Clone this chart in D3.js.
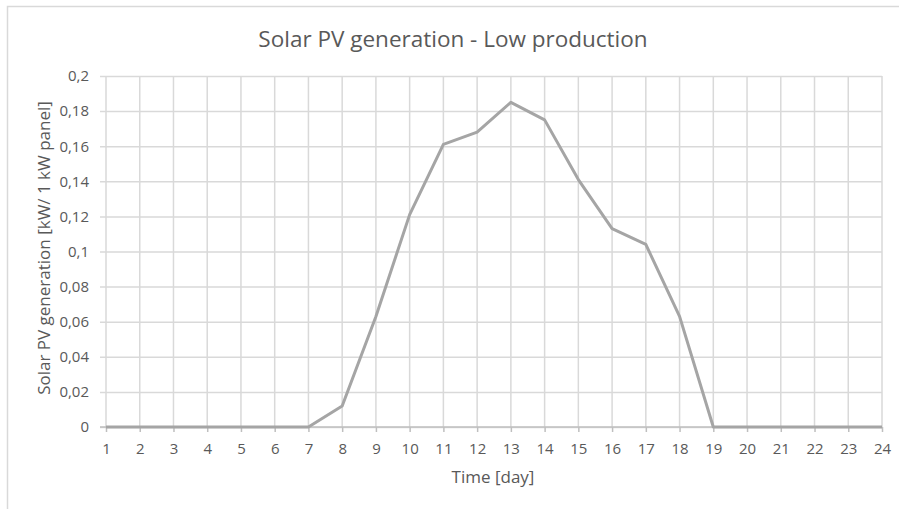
<!DOCTYPE html>
<html>
<head>
<meta charset="utf-8">
<script src="https://cdn.jsdelivr.net/npm/d3@7"></script>
<style>
  body { margin: 0; background: #fff; }
  text { font-family: "Open Sans", "Noto Sans", sans-serif; fill: #595959; }
</style>
</head>
<body>
<div id="chart"></div>
<script>
// Data
const hours = d3.range(1, 25);
const generation = [0, 0, 0, 0, 0, 0, 0, 0.012, 0.063, 0.121, 0.161, 0.168,
  0.185, 0.175, 0.141, 0.113, 0.104, 0.063, 0, 0, 0, 0, 0, 0];
const yTicks = [0, 0.02, 0.04, 0.06, 0.08, 0.1, 0.12, 0.14, 0.16, 0.18, 0.2];

const W = 899, H = 509;
const margin = { top: 76, right: 17, bottom: 82, left: 106 },
    width = W - margin.left - margin.right,
    height = H - margin.top - margin.bottom;

const svg = d3.select("#chart").append("svg")
    .attr("width", W)
    .attr("height", H);

// Chart frame
svg.append("rect")
    .attr("x", 7.5).attr("y", 6.5)
    .attr("width", W).attr("height", H)
    .attr("fill", "none")
    .attr("stroke", "#d9d9d9")
    .attr("stroke-width", 1.5);

const g = svg.append("g")
    .attr("transform", `translate(${margin.left},${margin.top})`);

const x = d3.scaleLinear().domain([1, 24]).range([0, width]);
const y = d3.scaleLinear().domain([0, 0.2]).range([height, 0]);

const fmt = d => d3.format("")(+d.toFixed(2)).replace(".", ",");

// Horizontal gridlines + y labels
const yAxis = g.append("g")
    .call(d3.axisLeft(y).tickValues(yTicks).tickSize(-width - 6).tickFormat(fmt).tickPadding(11))
    .attr("transform", "translate(-6,0)");
yAxis.select(".domain").remove();
yAxis.selectAll(".tick line").attr("stroke", "#d9d9d9").attr("stroke-width", 1.5)
    .attr("x1", 0);
yAxis.selectAll(".tick text").style("font-size", "15px").attr("fill", "#595959");

// Vertical gridlines
g.append("g")
    .selectAll("line")
    .data(hours)
    .join("line")
      .attr("x1", d => x(d)).attr("x2", d => x(d))
      .attr("y1", 0).attr("y2", height)
      .attr("stroke", "#d9d9d9")
      .attr("stroke-width", 1.5);

// X axis
const xAxis = g.append("g")
    .attr("transform", `translate(0,${height})`)
    .call(d3.axisBottom(x).tickValues(hours).tickFormat(d3.format("d")).tickSize(5).tickPadding(11).tickSizeOuter(0));
xAxis.select(".domain").attr("stroke", "#bfbfbf").attr("stroke-width", 1.5)
    .attr("d", `M-6,0H${width}`);
xAxis.selectAll(".tick line").attr("stroke", "#bfbfbf").attr("stroke-width", 1.5);
xAxis.selectAll(".tick text").style("font-size", "15px").attr("fill", "#595959");

// Line
g.append("path")
    .datum(generation)
    .attr("fill", "none")
    .attr("stroke", "#a5a5a5")
    .attr("stroke-width", 3)
    .attr("stroke-linejoin", "round")
    .attr("d", d3.line().x((d, i) => x(hours[i])).y(d => y(d)));

// Title
svg.append("text")
    .attr("x", 453).attr("y", 47)
    .attr("text-anchor", "middle")
    .style("font-size", "22.5px")
    .text("Solar PV generation - Low production");

// Axis labels
svg.append("text")
    .attr("x", 493).attr("y", 483)
    .attr("text-anchor", "middle")
    .style("font-size", "17px")
    .text("Time [day]");

svg.append("text")
    .attr("transform", "translate(50,248) rotate(-90)")
    .attr("text-anchor", "middle")
    .style("font-size", "17px")
    .text("Solar PV generation [kW/ 1 kW panel]");
</script>
</body>
</html>
